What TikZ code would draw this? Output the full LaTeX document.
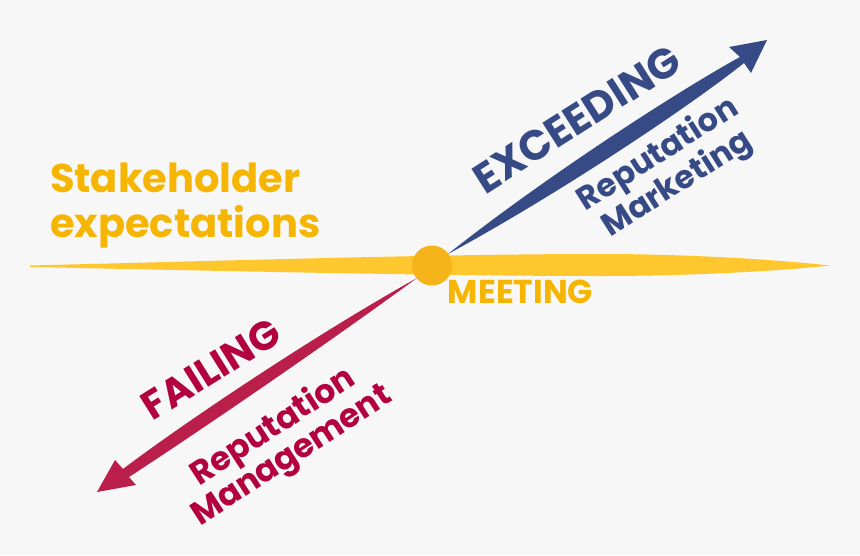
\documentclass[tikz,border=0pt]{standalone}
\usepackage{fontspec}
\setmainfont{Poppins}
\definecolor{bgc}{HTML}{F7F7F7}
\definecolor{lensc}{HTML}{FFC72E}
\definecolor{hubc}{HTML}{F4B41A}
\definecolor{ytext}{HTML}{F6B500}
\definecolor{bluec}{HTML}{364A86}
\definecolor{redarrow}{HTML}{BA1F4B}
\definecolor{redtext}{HTML}{B3003F}
\begin{document}
\begin{tikzpicture}[x=1pt,y=-1pt,
  every node/.style={inner sep=0pt, outer sep=0pt},
  lbl/.style={font=\bfseries\fontsize{#1}{#1}\selectfont},
  twoline/.style={align=center, font=\bfseries\fontsize{#1}{34}\selectfont}]
\useasboundingbox (0,0) rectangle (860,555);
\fill[bgc] (0,0) rectangle (860,555);

% horizontal lens (meeting axis)
\coordinate (lensL) at (30,265.5);
\coordinate (lensR) at (830,265.5);
\fill[lensc] (lensL) .. controls (250,260) and (450,254) .. (600,254)
  .. controls (700,254) and (790,261) .. (lensR)
  .. controls (790,270) and (700,276) .. (600,276)
  .. controls (450,276) and (250,271.5) .. (30,267) -- cycle;

% blue arrow (exceeding)
\coordinate (bS) at (448,254);
\coordinate (bNt) at (740,57);
\coordinate (bNb) at (744,63);
\coordinate (bL) at (729,47);
\coordinate (bTip) at (767,40);
\coordinate (bR) at (751,73);
\fill[bluec] (bS) .. controls (545,177) and (678,91) .. (bNt) -- (bL) -- (bTip) -- (bR) -- (bNb)
  .. controls (689,107) and (557,195) .. (bS) -- cycle;

% red arrow (failing)
\coordinate (rS) at (417,278);
\coordinate (rNu) at (123,469);
\coordinate (rNl) at (129,477);
\coordinate (rU) at (115,460);
\coordinate (rTip) at (97,492);
\coordinate (rD) at (136,485);
\fill[redarrow] (rS) .. controls (309.5,338) and (179,426.5) .. (rNu) -- (rU) -- (rTip) -- (rD) -- (rNl)
  .. controls (187.5,439) and (318,350.5) .. (rS) -- cycle;

% hub
\node[circle, fill=hubc, minimum size=40pt] (hub) at (432,265.5) {};

% texts
\node[lbl=40, text=ytext, align=left, anchor=base west] (stake) at (50,237) {Stakeholder\\[5pt]expectations};
\node[lbl=33, text=ytext] (meeting) at (520.5,292) {MEETING};
\node[lbl=42, text=bluec, rotate=32.5] (exceed) at (577,119) {EXCEEDING};
\node[twoline=32, text=bluec, rotate=32.5] (repmkt) at (668,170) {Reputation\\Marketing};
\node[lbl=40, text=redtext, rotate=32] (failing) at (211,369) {FAILING};
\node[twoline=33, text=redtext, rotate=33] (repmgmt) at (283,442) {Reputation\\Management};
\end{tikzpicture}
\end{document}
